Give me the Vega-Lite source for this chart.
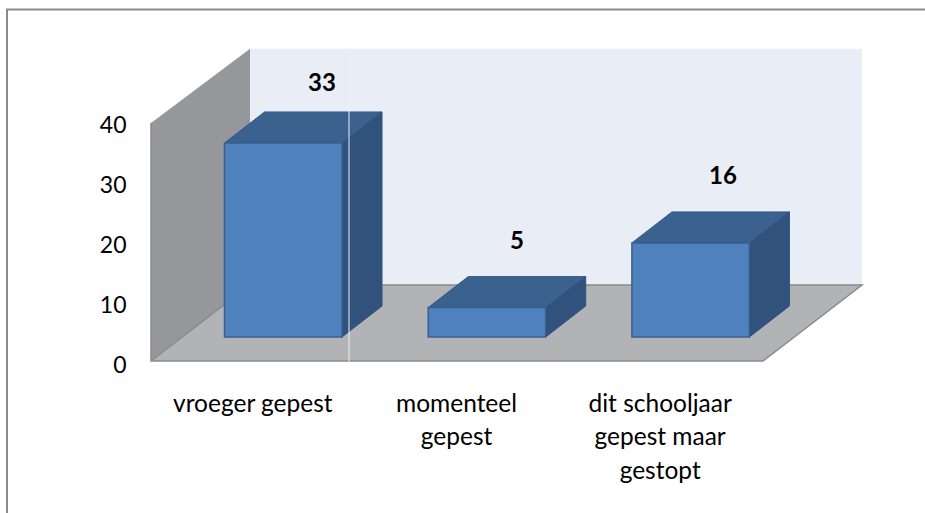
{"$schema":"https://vega.github.io/schema/vega-lite/v6.json","width":925,"height":513,"padding":0,"autosize":"none","background":"white","config":{"view":{"stroke":null},"font":"Lato"},
"datasets":{
"bars":[{"label":"vroeger gepest","value":33},{"label":"momenteel gepest","value":5},{"label":"dit schooljaar gepest maar gestopt","value":16}],
"wall":[{"px":151,"low":-4.08,"high":36.4},{"px":250,"low":8.84,"high":49}],
"back":[{"px":250,"px2":862,"low":8.84,"high":49}],
"floor":[{"px":151,"px2":763,"level":-4.08},{"px":250,"px2":862,"level":8.84}],
"floorEdge":[{"o":1,"px":151,"level":36.4},{"o":2,"px":151,"level":-4.08},{"o":3,"px":763,"level":-4.08},{"o":4,"px":862,"level":8.84},{"o":5,"px":250,"level":8.84},{"o":6,"px":151,"level":-4.08}],
"frame":[{"o":1,"px":7,"level":-30},{"o":2,"px":7,"level":55.7},{"o":3,"px":925,"level":55.7}],
"seam":[{"px":349,"low":-4.2,"high":49}]
},
"layer":[
{"resolve":{"scale":{"x":"shared","y":"shared"}},"layer":[
{"data":{"name":"frame"},"mark":{"type":"line","color":"#8a8a8a","strokeWidth":2},"encoding":{"x":{"field":"px","type":"quantitative","scale":{"domain":[0,925],"range":[0,925],"nice":false,"zero":false},"axis":null},"y":{"field":"level","type":"quantitative","scale":{"domain":[-29.93,57.31],"range":[513,0],"nice":false,"zero":false},"axis":null},"order":{"field":"o"}}},
{"data":{"name":"back"},"mark":{"type":"rect","color":"#e9edf6"},"encoding":{"x":{"field":"px","type":"quantitative","axis":null},"x2":{"field":"px2"},"y":{"field":"low","type":"quantitative","axis":null},"y2":{"field":"high"}}},
{"data":{"name":"wall"},"mark":{"type":"area","color":"#95979a","orient":"vertical"},"encoding":{"x":{"field":"px","type":"quantitative","axis":null},"y":{"field":"low","type":"quantitative","axis":null},"y2":{"field":"high"}}},
{"data":{"name":"floor"},"mark":{"type":"area","color":"#b1b3b6","orient":"horizontal"},"encoding":{"y":{"field":"level","type":"quantitative","axis":null},"x":{"field":"px","type":"quantitative","axis":null},"x2":{"field":"px2"}}},
{"data":{"name":"floorEdge"},"mark":{"type":"line","color":"#8a8a8a","strokeWidth":1.5},"encoding":{"x":{"field":"px","type":"quantitative","axis":null},"y":{"field":"level","type":"quantitative","axis":null},"order":{"field":"o"}}},
{"data":{"name":"bars"},"transform":[{"calculate":"indexof(['vroeger gepest','momenteel gepest','dit schooljaar gepest maar gestopt'],datum.label)","as":"i"},{"calculate":"[0,1]","as":"d"},{"flatten":["d"]},{"calculate":"224.5+203.7*datum.i+40*datum.d","as":"left"},{"calculate":"datum.left+117.5","as":"right"},{"calculate":"datum.value+5.27*datum.d","as":"topY"}],
"mark":{"type":"area","orient":"horizontal","color":"#3b618f","stroke":"#35598a","strokeWidth":1},"encoding":{"detail":{"field":"label"},"y":{"field":"topY","type":"quantitative","axis":null},"x":{"field":"left","type":"quantitative","axis":null},"x2":{"field":"right"}}},
{"data":{"name":"bars"},"transform":[{"calculate":"indexof(['vroeger gepest','momenteel gepest','dit schooljaar gepest maar gestopt'],datum.label)","as":"i"},{"calculate":"[0,1]","as":"d"},{"flatten":["d"]},{"calculate":"342+203.7*datum.i+40*datum.d","as":"right"},{"calculate":"datum.value+5.27*datum.d","as":"topY"},{"calculate":"5.27*datum.d","as":"baseY"}],
"mark":{"type":"area","orient":"vertical","color":"#30527c","stroke":"#30527c","strokeWidth":1},"encoding":{"detail":{"field":"label"},"x":{"field":"right","type":"quantitative","axis":null},"y":{"field":"topY","type":"quantitative","axis":null},"y2":{"field":"baseY"}}},
{"data":{"name":"bars"},"transform":[{"calculate":"indexof(['vroeger gepest','momenteel gepest','dit schooljaar gepest maar gestopt'],datum.label)","as":"i"},{"calculate":"224.5+203.7*datum.i","as":"left"},{"calculate":"datum.left+117.5","as":"right"},{"calculate":"0","as":"base"}],
"mark":{"type":"rect","color":"#4f81bd","stroke":"#38608f","strokeWidth":1.5},"encoding":{"x":{"field":"left","type":"quantitative","axis":null},"x2":{"field":"right"},"y":{"field":"value","type":"quantitative","axis":null},"y2":{"field":"base"}}},
{"data":{"name":"seam"},"mark":{"type":"rule","color":"#eef1f8","strokeWidth":1},"encoding":{"x":{"field":"px","type":"quantitative","axis":null},"y":{"field":"low","type":"quantitative","axis":null},"y2":{"field":"high"}}},
{"data":{"name":"bars"},"transform":[{"calculate":"indexof(['vroeger gepest','momenteel gepest','dit schooljaar gepest maar gestopt'],datum.label)","as":"i"},{"calculate":"[322,517,723][datum.i]","as":"tx"},{"calculate":"datum.value+[10.05,11.15,11.25][datum.i]","as":"ty"}],
"mark":{"type":"text","fontSize":24,"fontWeight":"bold","color":"#000000","font":"Lato"},"encoding":{"x":{"field":"tx","type":"quantitative","axis":null},"y":{"field":"ty","type":"quantitative","axis":null},"text":{"field":"value","type":"quantitative"}}}
]},
{"data":{"name":"bars"},"mark":{"type":"bar","opacity":0},"encoding":{
"x":{"field":"label","type":"nominal","sort":null,"scale":{"range":[151,762],"paddingInner":0,"paddingOuter":0},"axis":{"orient":"bottom","offset":-121,"title":null,"domain":false,"ticks":false,"labelAngle":0,"labelFontSize":24.5,"labelFont":"Lato","labelColor":"#000000","labelLimit":400,"labelPadding":0,"labelLineHeight":33.5,"labelBaseline":"top","labelExpr":"datum.label=='momenteel gepest'?['momenteel','gepest']:datum.label=='vroeger gepest'?'vroeger gepest':['dit schooljaar','gepest maar','gestopt']"}},
"y":{"field":"value","type":"quantitative","scale":{"domain":[0,40],"range":[365,125],"nice":false},"axis":{"orient":"left","offset":-126,"title":null,"domain":false,"ticks":false,"grid":false,"values":[0,10,20,30,40],"labelFontSize":23,"labelFont":"Lato","labelColor":"#000000","labelPadding":0}}}}
],
"resolve":{"scale":{"x":"independent","y":"independent"},"axis":{"x":"independent","y":"independent"}}}
